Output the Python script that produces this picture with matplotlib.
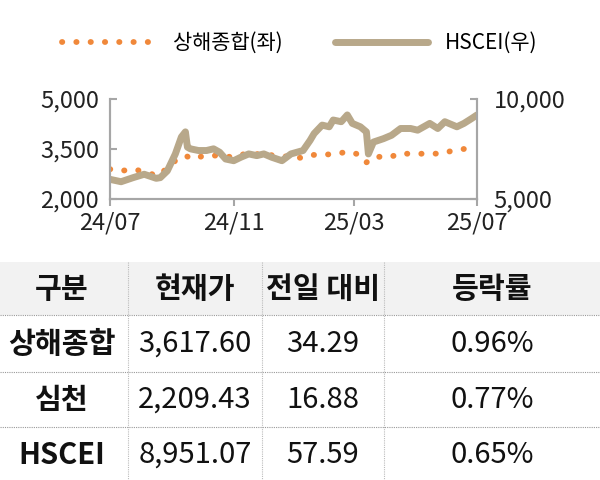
import matplotlib
matplotlib.use("Agg")
import matplotlib.pyplot as plt
import numpy as np
import pandas as pd

plt.rcParams["font.family"] = ["Noto Sans CJK KR"]

hs_dates = ["2024-07-01","2024-07-12","2024-07-24","2024-08-04","2024-08-16","2024-08-20","2024-08-27",
            "2024-09-04","2024-09-10","2024-09-14","2024-09-16","2024-09-19","2024-09-27","2024-10-05",
            "2024-10-12","2024-10-18","2024-10-24","2024-11-01","2024-11-08","2024-11-16","2024-11-24",
            "2024-12-01","2024-12-09","2024-12-19","2024-12-28","2025-01-09","2025-01-16","2025-01-20",
            "2025-01-28","2025-02-04","2025-02-08","2025-02-16","2025-02-22","2025-02-27","2025-03-07",
            "2025-03-13","2025-03-15","2025-03-20","2025-03-30","2025-04-07","2025-04-16","2025-04-26",
            "2025-05-03","2025-05-15","2025-05-23","2025-05-30","2025-06-11","2025-06-18","2025-06-26",
            "2025-07-01"]
hs_values = [5983,5864,6068,6237,6034,6068,6407,7254,8102,8356,7593,7508,7424,7424,7508,7339,7000,
             6915,7085,7254,7169,7254,7085,6915,7254,7424,7932,8271,8695,8610,8949,8864,9203,8780,
             8610,8356,7254,7847,8017,8186,8525,8525,8441,8780,8525,8864,8610,8780,9034,9203]

sh_dates = ["2024-07-01","2024-07-12","2024-07-25","2024-08-18","2024-09-04","2024-09-14","2024-09-21",
            "2024-10-03","2024-10-18","2024-11-01","2024-11-12","2024-11-22","2024-12-15","2025-01-08",
            "2025-01-19","2025-01-31","2025-02-11","2025-02-23","2025-03-07","2025-03-13","2025-03-22",
            "2025-04-05","2025-04-16","2025-04-30","2025-05-13","2025-05-26","2025-06-07","2025-06-19"]
sh_values = [2895,2844,2895,2692,3149,3302,3200,3302,3302,3251,3353,3353,3300,3231,3322,3332,3353,
             3424,3322,3098,3271,3251,3373,3342,3373,3353,3454,3505]

x_ticks = ["2024-07-01","2024-11-01","2025-03-01","2025-07-01"]
x_labels = ["24/07","24/11","25/03","25/07"]
left_ticks = [2000, 3500, 5000]
right_ticks = [5000, 10000]

header = ["구분", "현재가", "전일 대비", "등락률"]
names = ["상해종합", "심천", "HSCEI"]
prices = ["3,617.60", "2,209.43", "8,951.07"]
changes = ["34.29", "16.88", "57.59"]
pcts = ["0.96%", "0.77%", "0.65%"]

W, H = 600, 480
fig = plt.figure(figsize=(6, 4.8), dpi=100)

ax = fig.add_axes([110/W, 1-199/H, (477-110)/W, (199-99)/H])
ax2 = ax.twinx()
grey = "#a6a6a6"
sh_c = "#f0883a"
hs_c = "#b8a88a"
l1, = ax.plot(pd.to_datetime(sh_dates), sh_values, color=sh_c, lw=4.2,
              linestyle=(0, (0.05, 2.4)), dash_capstyle="round", zorder=1)
l2, = ax2.plot(pd.to_datetime(hs_dates), hs_values, color=hs_c, lw=5, solid_joinstyle="round",
               solid_capstyle="round")
ax.set_ylim(2000, 5000)
ax2.set_ylim(5000, 10000)
ax.set_yticks(left_ticks)
ax.set_yticklabels([f"{v:,}" for v in left_ticks])
ax2.set_yticks(right_ticks)
ax2.set_yticklabels([f"{v:,}" for v in right_ticks])
ax.set_xlim(pd.Timestamp("2024-07-01"), pd.Timestamp("2025-07-01"))
ax.set_xticks(pd.to_datetime(x_ticks))
ax.set_xticklabels(x_labels)
for a in (ax, ax2):
    a.spines["top"].set_visible(False)
    for s in ["left", "right", "bottom"]:
        a.spines[s].set_color(grey)
        a.spines[s].set_linewidth(1.5)
    a.tick_params(colors=grey, labelcolor="#222222", labelsize=17, width=1.5, length=5, direction="in")
ax.tick_params(axis="x", direction="out", pad=4)
ax.tick_params(axis="y", pad=8)
ax2.tick_params(axis="y", pad=12)

fig.legend([l1, l2], ["상해종합(좌)", "HSCEI(우)"], loc="center", bbox_to_anchor=(0.5, 1-43/H),
           ncol=2, frameon=False, fontsize=15, handlelength=4.5, columnspacing=2.5)

# table
tax = fig.add_axes([0, 0, 1, 1])
tax.set_xlim(0, W)
tax.set_ylim(H, 0)
tax.axis("off")
tax.add_patch(plt.Rectangle((0, 262), W, 53, color="#f2f2f2", lw=0))
for y in [315, 372, 427]:
    tax.plot([0, W], [y, y], color="#999999", lw=0.8, ls=(0, (1, 1)))
for x in [128, 262, 384]:
    tax.plot([x, x], [262, 480], color="#bbbbbb", lw=0.8, ls=(0, (1, 1)))
centers = [62, 195, 323, 492]
for c, t in zip(centers, header):
    tax.text(c, 289, t, ha="center", va="center", fontsize=21, fontweight="bold", color="#111111")
rows_y = [344, 400, 455]
for i, y in enumerate(rows_y):
    tax.text(centers[0], y, names[i], ha="center", va="center", fontsize=21, fontweight="bold", color="#111111")
    tax.text(centers[1], y, prices[i], ha="center", va="center", fontsize=21, color="#111111")
    tax.text(centers[2], y, changes[i], ha="center", va="center", fontsize=21, color="#111111")
    tax.text(centers[3], y, pcts[i], ha="center", va="center", fontsize=21, color="#111111")

fig.savefig("out.png", dpi=100)
